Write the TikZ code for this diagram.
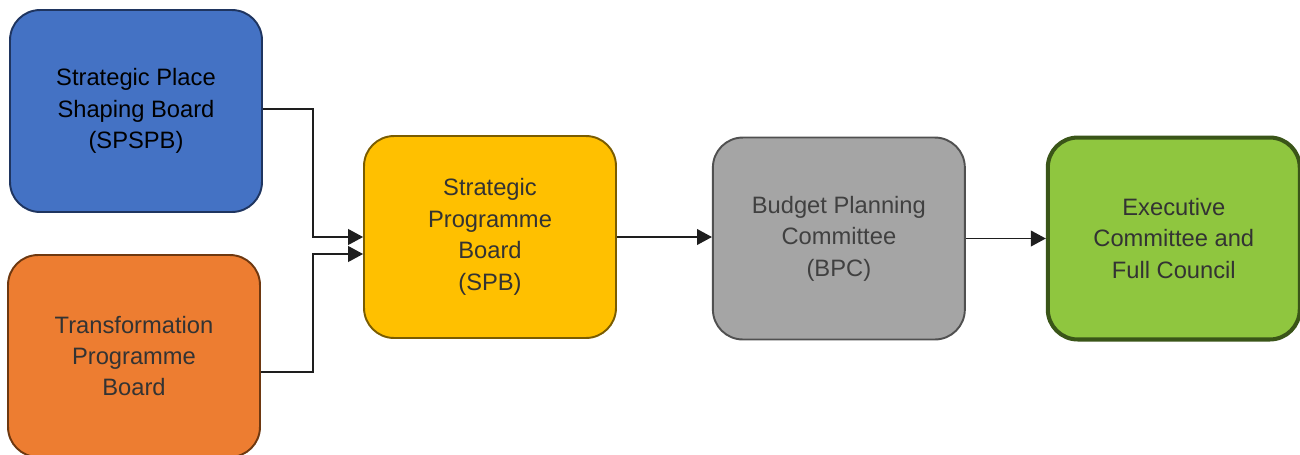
\documentclass[tikz,border=0pt]{standalone}
\usepackage{fontspec}
\setmainfont{Liberation Sans}
\usetikzlibrary{arrows.meta,positioning,calc}
\definecolor{spblue}{HTML}{4472C4}
\definecolor{spblueline}{HTML}{1F3560}
\definecolor{tporange}{HTML}{ED7D31}
\definecolor{tporangeline}{HTML}{6E3810}
\definecolor{spbyellow}{HTML}{FFC000}
\definecolor{spbyellowline}{HTML}{7A5C00}
\definecolor{bpcgrey}{HTML}{A5A5A5}
\definecolor{bpcgreyline}{HTML}{505050}
\definecolor{exgreen}{HTML}{8FC63F}
\definecolor{exgreenline}{HTML}{3A5518}
\definecolor{txtgrey}{HTML}{333333}
\definecolor{bpctext}{HTML}{404040}
\definecolor{linegrey}{HTML}{1E1E1E}

\begin{document}
\begin{tikzpicture}[x=0.02cm,y=-0.02cm,>={Triangle[length=8.5pt,width=9pt]},
                    node distance=1.9cm,font=\fontsize{13.5}{17.9}\selectfont]
  \tikzstyle{board}=[rectangle,rounded corners=0.6cm,draw,line width=1.1pt,
                     minimum width=5.04cm,minimum height=4.04cm,align=center,text=txtgrey]
  \tikzstyle{link}=[->,draw=linegrey,line width=0.75pt]

  \useasboundingbox (0,0) rectangle (1300,454);

  \node[board,fill=spblue,draw=spblueline,text=black] (spspb) at (136,111) {Strategic Place\\Shaping Board\\(SPSPB)};
  \node[board,fill=tporange,draw=tporangeline] (tpb) at (134,356) {Transformation\\Programme\\Board};
  \node[board,fill=spbyellow,draw=spbyellowline] (spb) at (490,237) {Strategic\\Programme\\Board\\(SPB)};
  \node[board,fill=bpcgrey,draw=bpcgreyline,text=bpctext,right=of spb,yshift=-0.03cm] (bpc) {Budget Planning\\Committee\\(BPC)};
  \node[board,fill=exgreen,draw=exgreenline,line width=2.3pt,right=1.6cm of bpc] (exec) {Executive\\Committee and\\Full Council};

  \coordinate (join) at (313,237);
  \coordinate (lowin) at ([yshift=-0.34cm]spb.west);

  \draw[link] ([yshift=0.04cm]spspb.east) -| (join) -- (spb.west);
  \draw[link] ([yshift=-0.32cm]tpb.east) -| (join |- lowin) -- (lowin);
  \draw[link] (spb) -- (spb -| bpc.west);
  \draw[link] (bpc) -- (bpc -| exec.west);
\end{tikzpicture}
\end{document}
